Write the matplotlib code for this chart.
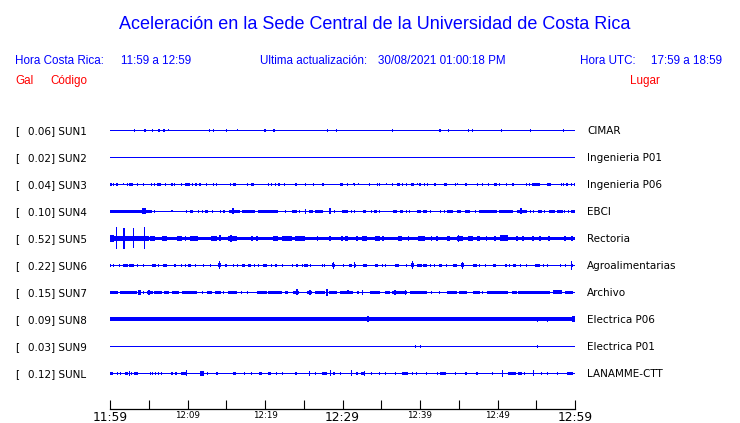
import matplotlib
matplotlib.use("Agg")
import matplotlib.pyplot as plt
from matplotlib.transforms import Affine2D, blended_transform_factory

# ---------------- data ----------------
gal = [0.06, 0.02, 0.04, 0.10, 0.52, 0.22, 0.15, 0.09, 0.03, 0.12]
codes = ["SUN1", "SUN2", "SUN3", "SUN4", "SUN5", "SUN6", "SUN7", "SUN8", "SUN9", "SUNL"]
places = ["CIMAR", "Ingenieria P01", "Ingenieria P06", "EBCI", "Rectoria",
          "Agroalimentarias", "Archivo", "Electrica P06", "Electrica P01", "LANAMME-CTT"]
tick_minutes = [0, 10, 20, 30, 40, 50, 60]
tick_labels = ["11:59", "12:09", "12:19", "12:29", "12:39", "12:49", "12:59"]
minor_minutes = [5, 15, 25, 35, 45, 55]

# trace background half-thickness (px) per station
base_px = [0.5, 0.5, 0.5, 0.5, 1.5, 0.5, 0.5, 1.8, 0.5, 0.5]

# bursts: (time in minutes, duration in minutes, half amplitude in px)
sun1 = [(3.2,.12,1.5),(4.5,.35,1.5),(5.5,.12,1.5),(6.3,.3,1.5),(7.0,.3,1.5),(7.6,.12,1),
        (12.8,.12,1.5),(13.3,.12,1.5),(15.0,.12,1.5),(16.5,.12,1),(20.0,.12,1.5),(21.2,.3,1.5),
        (28.1,.12,1.5),(29.2,.12,1.5),(36.4,.12,1.5),(42.6,.3,1.5),(43.7,.12,1.5),(46.3,.12,1.5),
        (46.8,.12,1.5),(50.5,.12,1.5),(54.2,.12,1.5),(58.5,.12,1.5)]
sun2 = []
sun3 = [(0.15,.3,1.5),(0.5,.12,1.5),(0.9,.2,1.5),(1.7,.12,1),(2.2,.12,1.5),(2.75,.5,1.5),(3.6,.12,1.5),
        (4.3,.12,1.5),(5.4,.12,1.5),(5.8,.12,1.5),(6.35,.5,1.5),(7.2,.12,1.5),(8.0,.12,1.5),(8.3,.2,1.5),
        (9.2,.12,1.5),(10.0,.6,1.5),(10.6,.12,1.5),(11.1,.2,1.5),(11.6,.2,1.5),(12.4,.12,1.5),
        (13.3,.12,1.5),(13.7,.12,1.5),(15.5,.12,1.5),(16.1,.4,1.5),(17.7,.12,1.5),(18.4,.4,1.5),
        (20.5,.12,1.5),(20.9,.12,1.5),(21.3,.12,1.5),(21.8,.2,1.5),(22.5,.12,1.5),(24.0,.12,1.5),
        (25.2,.12,1.5),(26.2,.12,1.5),(27.4,.12,1.5),(27.6,.12,1.5),(29.9,.4,1.5),(30.7,.12,1.5),
        (31.4,.12,1),(31.6,.12,1.5),(32.1,.12,1),(33.5,.12,1.5),(34.5,.12,1.5),(34.8,.12,1.5),
        (35.7,.12,1),(36.4,.12,1.5),(37.2,.4,1.5),(37.7,.12,1.5),(38.2,.12,1.5),(39.0,.4,1.5),
        (39.7,.12,1),(40.0,.12,1.5),(40.6,.12,1.5),(41.0,.12,1.5),(41.9,.2,1.5),(43.3,.4,1.5),
        (44.6,.12,1.5),(44.9,.12,1),(45.9,.2,1.5),(47.4,.12,1.5),(48.1,.12,1.5),(48.9,.12,1.5),
        (49.7,.4,1.5),(50.2,.12,1.5),(51.1,.12,1.5),(52.0,.12,1.5),(53.8,.12,1.5),(54.1,.12,1.5),
        (55.0,1.0,1.5),(56.65,.5,1.5),(58.3,.12,1.5),(58.5,.12,1.5),(59.0,.2,1.5),(59.6,.12,1.5),
        (59.9,.12,1.5)]
sun4 = [(2.7,5.4,1.5),(4.4,.6,3),(5.7,.12,1.5),(8.0,.12,1),(9.9,.12,1.5),(10.5,.4,1.5),(11.4,.12,1.5),
        (11.9,.12,1.5),(12.45,.35,1.5),(13.2,.12,1.5),(14.3,.12,1.5),(14.7,.2,1.5),(16.1,1.4,1.5),
        (15.9,.2,3),(17.85,1.7,1.5),(20.4,2.6,1.5),(22.6,.12,1.5),(23.8,.6,1.5),(24.4,.12,1.5),
        (25.2,.2,2.5),(25.95,.5,1.5),(27.0,1.0,1.5),(28.4,.2,3),(29.0,.12,1.5),(30.3,.8,1.5),
        (31.1,.12,1.5),(31.6,.12,1.5),(32.8,.4,1.5),(33.7,.12,1.5),(34.25,.5,1.5),(34.8,.12,1.5),
        (36.75,.5,1.5),(37.6,.4,1.5),(38.2,.12,1.5),(38.6,.12,1.5),(39.85,.5,1.5),(40.65,.5,1.5),
        (41.4,.12,1.5),(42.7,.12,1.5),(43.1,.12,1.5),(43.9,.8,1.5),(45.05,.5,1.5),(46.15,.7,1.5),
        (47.1,.12,1.5),(48.75,2.3,1.5),(51.1,1.8,1.5),(53.15,1.3,1.5),(53.0,.2,3),(54.3,.12,1.5),
        (54.6,.12,1.5),(55.45,.5,1.5),(56.1,.12,1.5),(57.0,.8,1.5),(58.1,.8,1.5),(58.7,.12,1.5),
        (59.1,.12,1.5),(59.75,.5,1.5)]
sun5 = [(2.5,5.0,2.5),(0.3,.5,3.5),(0.8,.15,11),(1.8,.15,10.5),(3.0,.15,10),(4.4,.15,11),
        (5.5,.6,2.5),(7.05,.7,2.5),(8.95,.7,2.5),(9.7,.12,2.5),(10.85,1.1,2.5),(13.4,.8,2.5),
        (14.2,.2,3),(15.8,1.2,2.5),(15.6,.2,3.5),(18.3,.2,2.5),(19.0,.2,2.5),(21.35,.7,2.5),
        (22.85,1.3,2.5),(24.55,1.3,2.5),(26.8,.2,2.5),(28.4,.2,2.5),(29.9,.2,2.5),(30.5,.4,2.5),
        (31.9,.2,2.5),(32.85,.7,2.5),(34.5,.6,2.5),(35.2,.2,2.5),(37.45,.5,2.5),(38.5,.2,2.5),
        (40.15,.9,2.5),(41.5,.2,2.5),(42.2,.2,2.5),(43.7,.4,2.5),(45.15,.7,2.5),(45.0,.15,3.5),
        (46.5,.6,2.5),(47.55,.3,2.5),(48.6,.2,2.5),(49.7,.2,2.5),(50.85,1.1,3),(52.5,.2,2.5),
        (53.3,.2,2.5),(54.6,.2,2.5),(55.5,.2,2.5),(56.65,.3,2.5),(58.7,.2,2.5),(59.6,.2,2.5)]
sun6 = [(0.1,.12,1.5),(0.4,.12,1.5),(1.2,.12,1.5),(2.0,.6,1.5),(2.8,.6,1.5),(3.6,.12,1.5),(4.3,.12,1.5),
        (5.65,.5,1.5),(6.3,.12,1.5),(7.1,.6,1.5),(8.3,.12,1.5),(8.5,.12,1.5),(9.2,.12,1.5),(9.7,.12,1.5),
        (10.3,.4,1.5),(11.0,.12,1.5),(12.1,.12,1.5),(13.0,.12,1.5),(14.1,.15,4),(14.1,.4,2),
        (15.0,.25,1.5),(15.9,.12,1.5),(16.5,.12,1.5),(17.2,.4,1.5),(18.0,.4,1.5),(18.6,.12,1.5),
        (19.2,.12,1.5),(20.0,.6,1.5),(20.8,.12,1.5),(21.3,.12,1.5),(21.5,.12,1.5),(22.3,.12,1.5),
        (23.5,.12,1.5),(24.15,.3,1.5),(24.8,.12,1.5),(25.25,.5,1.5),(25.9,.12,1.5),(27.4,.12,1.5),
        (27.7,.12,1.5),(28.8,.15,3.5),(28.8,.3,2),(29.0,.12,1.5),(30.1,.12,1.5),(31.0,.4,1.5),
        (31.5,.15,3),(31.7,.12,1.5),(32.9,.6,1.5),(34.4,.4,1.5),(35.2,.12,1.5),(35.6,.12,1.5),
        (37.05,.5,1.5),(38.3,.12,1.5),(39.0,.15,4),(39.0,.4,2),(39.95,.7,1.5),(40.65,.5,1.5),
        (41.3,.12,1.5),(41.9,.12,1.5),(42.65,.3,1.5),(43.4,.12,1.5),(44.55,.5,1.5),(45.5,.15,3.5),
        (45.5,.4,2),(47.1,.6,1.5),(47.7,.12,1.5),(48.4,.12,1.5),(49.6,.4,1.5),(51.0,.12,1.5),
        (51.2,.12,1.5),(51.6,.12,1.5),(52.2,.4,1.5),(53.0,.12,1.5),(53.8,.12,1.5),(55.15,.7,1.5),
        (55.9,.12,1.5),(56.5,.12,1.5),(58.1,.12,1.5),(58.8,.12,1.5),(59.6,.15,4.5),(59.7,.12,1.5)]
sun7 = [(0.5,1.0,1.5),(2.4,2.2,1.5),(3.8,.4,2.5),(4.3,.12,1.5),(5.15,.7,1.5),(5.0,.2,2.5),(6.2,1.0,1.5),
        (7.3,.6,1.5),(8.45,.9,1.5),(10.25,1.9,1.5),(11.9,.12,1.5),(12.85,.7,1.5),(13.9,.8,1.5),
        (14.7,.12,1.5),(15.8,1.2,1.5),(17.0,.12,1.5),(17.8,.12,1.5),(19.65,1.3,1.5),(21.3,1.8,1.5),
        (22.8,.4,1.5),(24.0,.8,1.5),(24.1,.2,3),(25.75,.7,1.5),(25.8,.2,2.5),(27.1,1.2,1.5),
        (28.0,.15,3.5),(28.8,1.0,1.5),(29.7,.12,1.5),(30.55,1.7,1.5),(30.7,.2,2),(32.0,.12,1.5),
        (32.6,.2,2.5),(34.15,1.3,1.5),(35.8,.6,1.5),(37.35,1.9,1.5),(36.8,.2,2.5),(38.1,.2,2.5),
        (39.8,2.2,1.5),(41.5,.12,1.5),(42.5,.12,1.5),(44.15,1.3,1.5),(45.55,1.1,1.5),(47.25,.9,1.5),
        (48.1,.12,1.5),(50.0,2.8,1.5),(52.2,.6,1.5),(54.7,4.2,1.5),(57.75,1.1,2),(59.2,1.0,1.5)]
sun8 = [(3.2,.12,2.2),(23.4,.3,2.2),(28.8,.12,2.2),(29.7,.12,2.2),(33.3,.2,3),(55.1,.12,2.5),
        (56.4,.12,2.5),(59.8,.3,3)]
sun9 = [(39.4,.12,1.5),(40.1,.12,1.5),(55.1,.12,1.5)]
sunl = [(0.2,.4,1.5),(1.0,.12,1.5),(1.3,.12,1.5),(2.1,.4,1.5),(2.5,.15,2.5),(2.8,.12,1.5),(3.35,.5,1.5),
        (5.2,.12,1.5),(5.5,.12,1.5),(5.9,.12,1.5),(6.2,.12,1.5),(6.7,.12,1.5),(8.0,.2,1.5),(8.5,.2,1.5),
        (9.5,.6,1.5),(9.9,.15,3),(11.85,.5,2.5),(12.6,.12,1.5),(13.8,.2,1.5),(16.1,.4,1.5),
        (17.4,.12,1.5),(18.3,.12,1.5),(19.4,.4,1.5),(20.6,.4,1.5),(21.5,.12,1.5),(22.2,.12,1.5),
        (24.0,.12,1.5),(25.7,.15,2.5),(26.5,.12,1.5),(27.7,.6,1.5),(28.5,.15,3),(28.9,.2,1.5),
        (29.7,.12,1.5),(31.2,.15,3),(31.85,.3,1.5),(32.65,.5,1.5),(32.8,.15,2.5),(33.7,.12,1.5),
        (34.8,.12,1.5),(35.6,.12,1.5),(36.8,.12,1.5),(38.1,.8,1.5),(39.0,.12,1.5),(39.6,.12,1.5),
        (40.9,.12,1.5),(42.2,.12,1.5),(43.0,.8,1.5),(44.6,.12,1.5),(45.95,.3,1.5),(47.35,.3,1.5),
        (49.3,.12,1.5),(50.6,.15,3.5),(51.9,1.0,1.5),(52.9,.6,1.5),(53.5,.12,1.5),(54.6,.15,3),
        (55.7,.12,1.5),(56.5,.12,1.5),(57.8,.12,1.5),(59.35,.7,1.5)]
bursts = [sun1, sun2, sun3, sun4, sun5, sun6, sun7, sun8, sun9, sunl]

# ---------------- figure ----------------
W, H = 740, 423
BLUE = "#0000ff"
RED = "#ff0000"
ROW_PX = 27.0

fig = plt.figure(figsize=(W / 100, H / 100), dpi=100)
fig.patch.set_facecolor("white")
ax = fig.add_axes([110 / W, 14 / H, 465 / W, 292.5 / H])
ax.set_xlim(0, 60)
ax.set_ylim(10.333, -0.5)
ax.set_facecolor("none")

for i, ev in enumerate(bursts):
    b = base_px[i] / ROW_PX
    ax.barh(i, 60, height=2 * b, left=0, color=BLUE, linewidth=0, antialiased=False)
    if ev:
        t = [e[0] for e in ev]
        w = [max(e[1], 0.13) for e in ev]
        a = [e[2] / ROW_PX for e in ev]
        ax.bar(t, [2 * v for v in a], width=w, bottom=[i - v for v in a],
               color=BLUE, linewidth=0, antialiased=False)

for s in ["left", "right", "top"]:
    ax.spines[s].set_visible(False)
ax.spines["bottom"].set_linewidth(0.9)
ax.set_yticks([])
ax.set_xticks(tick_minutes)
ax.set_xticklabels(tick_labels)
ax.set_xticks(minor_minutes, minor=True)
ax.tick_params(axis="x", which="both", direction="in", length=6.5, width=0.8,
               colors="black", pad=1.5)
for lbl, m in zip(ax.get_xticklabels(), tick_minutes):
    lbl.set_fontsize(8.8 if m in (0, 30, 60) else 6.3)
    lbl.set_family("DejaVu Sans")

# pixel transform for layout texts
px = Affine2D().scale(1 / W, -1 / H).translate(0, 1) + fig.transFigure
rowt = blended_transform_factory(px, ax.transData)

for i in range(len(codes)):
    y = i + 3.6 / ROW_PX
    fig.text(15, y, "[", transform=rowt, fontsize=7.5, family="DejaVu Sans",
             va="baseline", ha="left", color="black")
    fig.text(27.7, y, f"{gal[i]:.2f}] {codes[i]}", transform=rowt, fontsize=7.5,
             family="DejaVu Sans", va="baseline", ha="left", color="black")
    fig.text(587, y, places[i], transform=rowt, fontsize=7.5, family="DejaVu Sans",
             va="baseline", ha="left", color="black")

hf = "Liberation Sans"
fig.text(375, 29, "Aceleración en la Sede Central de la Universidad de Costa Rica",
         transform=px, fontsize=13, family=hf, color=BLUE, ha="center", va="baseline")
fig.text(15, 64, "Hora Costa Rica:", transform=px, fontsize=8.4, family=hf, color=BLUE, va="baseline")
fig.text(121, 64, "11:59 a 12:59", transform=px, fontsize=8.4, family=hf, color=BLUE, va="baseline")
fig.text(260, 64, "Ultima actualización:", transform=px, fontsize=8.4, family=hf, color=BLUE, va="baseline")
fig.text(378, 64, "30/08/2021 01:00:18 PM", transform=px, fontsize=8.4, family=hf, color=BLUE, va="baseline")
fig.text(580, 64, "Hora UTC:", transform=px, fontsize=8.4, family=hf, color=BLUE, va="baseline")
fig.text(651, 64, "17:59 a 18:59", transform=px, fontsize=8.4, family=hf, color=BLUE, va="baseline")
fig.text(15, 84, "Gal", transform=px, fontsize=8.4, family=hf, color=RED, va="baseline")
fig.text(50, 84, "Código", transform=px, fontsize=8.4, family=hf, color=RED, va="baseline")
fig.text(630, 84, "Lugar", transform=px, fontsize=8.4, family=hf, color=RED, va="baseline")

fig.savefig("out.png", dpi=100, facecolor="white")
